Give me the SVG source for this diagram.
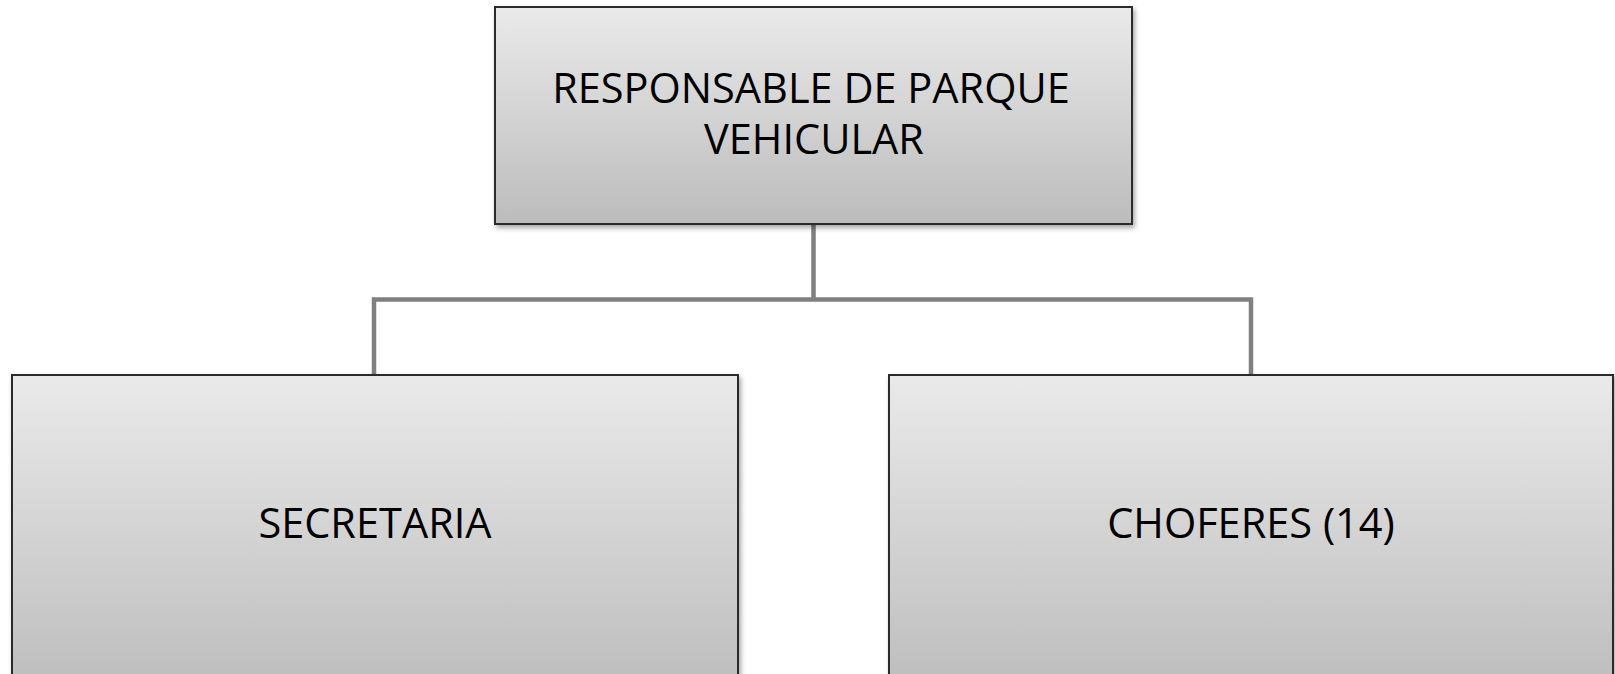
<svg xmlns="http://www.w3.org/2000/svg" width="1615" height="674" viewBox="0 0 1615 674">
<defs>
<linearGradient id="g1" x1="0" y1="0" x2="0" y2="1">
<stop offset="0" stop-color="#eaeaea"/>
<stop offset="1" stop-color="#bcbcbc"/>
</linearGradient>
<filter id="sh" x="-5%" y="-5%" width="110%" height="115%">
<feDropShadow dx="2" dy="3" stdDeviation="2.5" flood-color="#000" flood-opacity="0.35"/>
</filter>
<style>
.box{fill:url(#g1);stroke:#2a2a2a;stroke-width:2;filter:url(#sh)}
.t{font-family:"Open Sans","Liberation Sans",sans-serif;font-size:41.5px;fill:#000;text-anchor:middle}
.c{fill:none;stroke:#808080;stroke-width:4.5}
</style>
</defs>
<rect width="1615" height="674" fill="#fff"/>
<g id="connectors">
<path class="c" d="M813.5 224 V299.5 M374 375 V299.5 H1251 V375"/>
</g>
<g id="node-responsable">
<rect class="box" x="495" y="7" width="637" height="217"/>
<text class="t" x="811" y="103">RESPONSABLE DE PARQUE</text>
<text class="t" x="814" y="154">VEHICULAR</text>
</g>
<g id="node-secretaria">
<rect class="box" x="12" y="375" width="726" height="320"/>
<text class="t" x="375" y="538">SECRETARIA</text>
</g>
<g id="node-choferes">
<rect class="box" x="889" y="375" width="724" height="320"/>
<text class="t" x="1251" y="538">CHOFERES (14)</text>
</g>
</svg>
